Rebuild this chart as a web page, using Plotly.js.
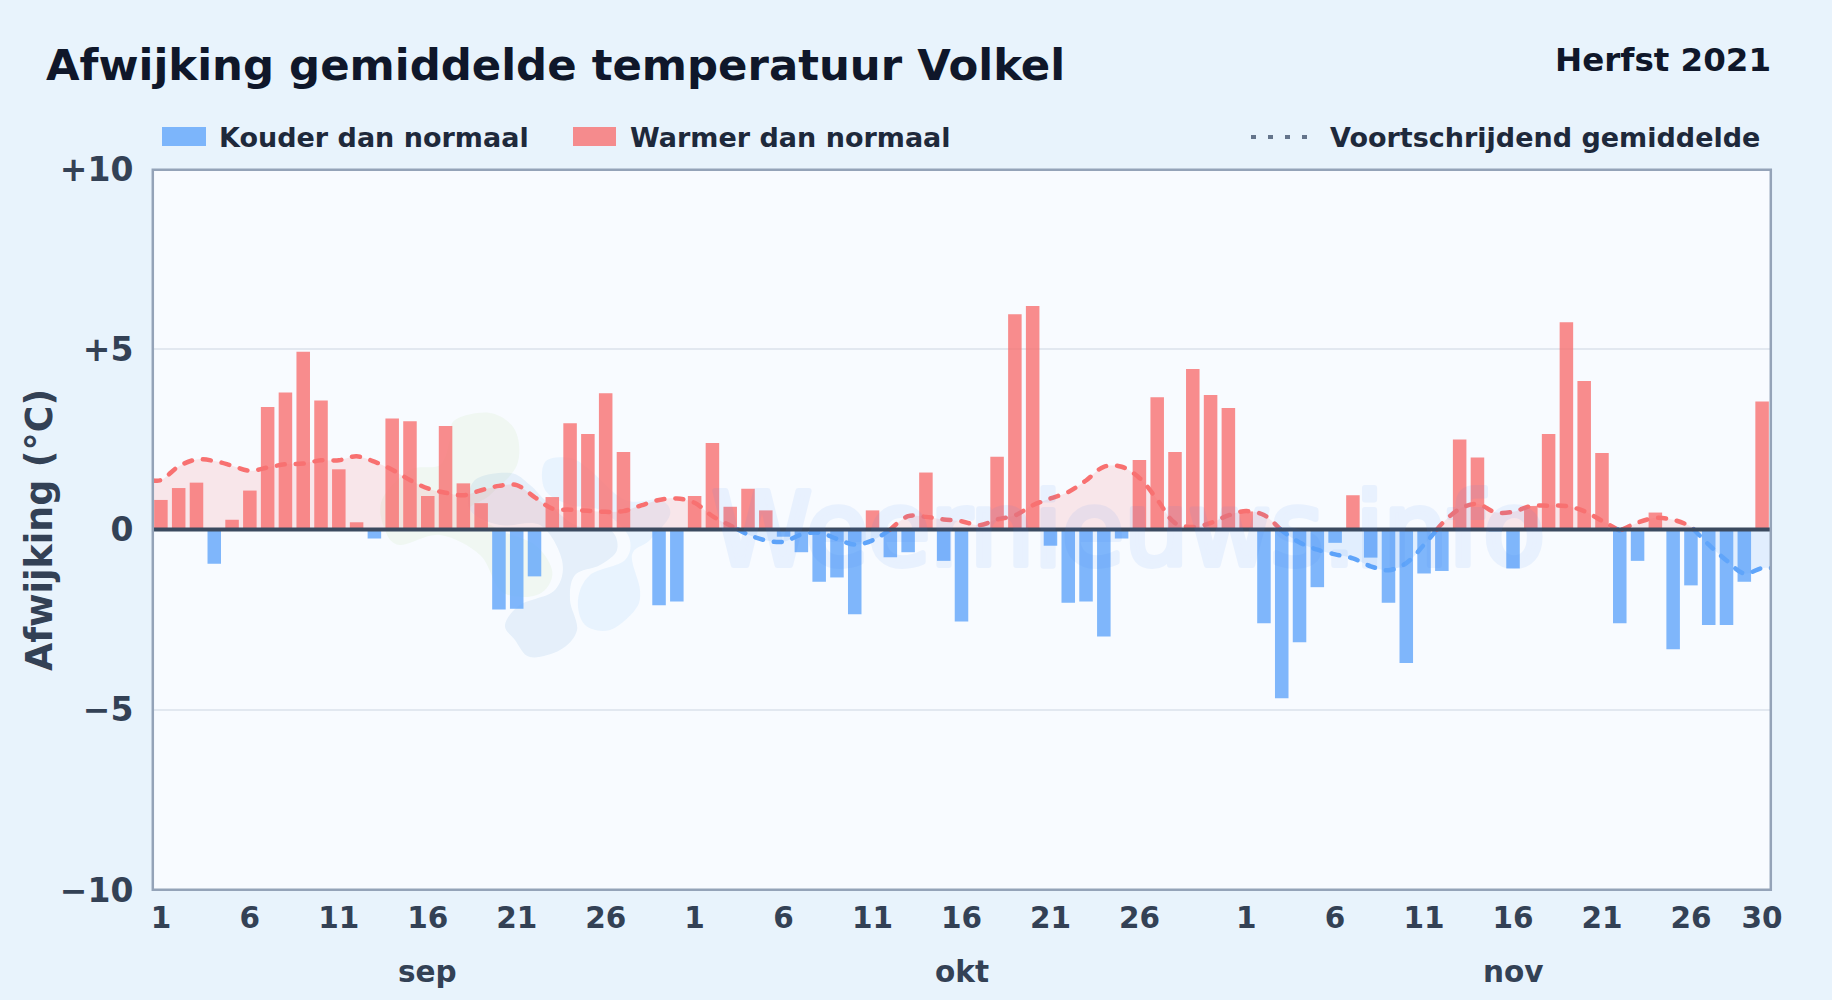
<!DOCTYPE html>
<html><head><meta charset="utf-8">
<script src="https://cdn.plot.ly/plotly-3.0.0.min.js"></script>
<style>html,body{margin:0;padding:0;background:#e8f3fc}#c{width:1832px;height:1000px}</style>
</head><body><div id="c"></div>
<script>
const anomalySep = [0.82,1.15,1.3,-0.95,0.27,1.08,3.4,3.8,4.93,3.58,1.67,0.2,-0.25,3.08,3.0,0.93,2.87,1.28,0.73,-2.22,-2.2,-1.3,0.9,2.95,2.65,3.78,2.15,0,-2.1,-2.0];
const anomalyOkt = [0.93,2.4,0.63,1.13,0.53,-0.2,-0.63,-1.45,-1.33,-2.35,0.53,-0.77,-0.63,1.58,-0.87,-2.55,0,2.02,5.97,6.2,-0.45,-2.03,-2.0,-2.97,-0.25,1.93,3.67,2.15,4.45,3.73,3.37];
const anomalyNov = [0.5,-2.6,-4.68,-3.13,-1.6,-0.37,0.95,-0.78,-2.03,-3.7,-1.22,-1.15,2.5,2.0,-0.05,-1.08,0.65,2.65,5.75,4.12,2.12,-2.6,-0.87,0.47,-3.32,-1.55,-2.65,-2.65,-1.45,3.55];
const rollingSep = [1.37,1.75,1.94,1.9,1.77,1.63,1.72,1.81,1.83,1.92,1.92,2.03,1.88,1.66,1.37,1.14,1.02,0.95,1.09,1.21,1.23,0.9,0.58,0.55,0.52,0.49,0.51,0.67,0.82,0.86];
const rollingOkt = [0.74,0.37,0.11,-0.14,-0.3,-0.34,-0.14,-0.09,-0.26,-0.42,-0.3,0.0,0.37,0.35,0.28,0.23,0.12,0.28,0.39,0.67,0.86,1.04,1.36,1.74,1.74,1.43,0.83,0.18,0.07,0.18,0.39];
const rollingNov = [0.51,0.4,-0.03,-0.36,-0.56,-0.69,-0.8,-1.02,-1.13,-0.93,-0.42,0.16,0.57,0.71,0.48,0.49,0.65,0.66,0.65,0.51,0.24,-0.03,0.19,0.32,0.27,0.08,-0.42,-0.86,-1.22,-1.07];
const dayTickIdx = [0,5,10,15,20,25,30,35,40,45,50,55,61,66,71,76,81,86,90];
const dayTickText = ['1','6','11','16','21','26','1','6','11','16','21','26','1','6','11','16','21','26','30'];
const yTicks = [-10,-5,0,5,10];
const yTickText = ['\u221210','\u22125','0','+5','+10'];
const months = ['sep','okt','nov'];
const monthCenterIdx = [15,45,76];
const legendCold = 'Kouder dan normaal';
const legendWarm = 'Warmer dan normaal';
const legendAvg = 'Voortschrijdend gemiddelde';
const yAxisTitle = 'Afwijking (°C)';

const FONT = 'DejaVu Sans, sans-serif';
const L=152,R=1771,T=169,B=890,W=1832,H=1000;
const RED='#f87171',BLUE='#60a5fa';

const anomaly = anomalySep.concat(anomalyOkt,anomalyNov);
const rolling = rollingSep.concat(rollingOkt,rollingNov);
const idx = anomaly.map((_,i)=>i);

// moving-average runs split at the zero crossings
const rx=[-0.5].concat(idx,[idx.length-0.5]);
const ry=[rolling[0]].concat(rolling,[rolling[rolling.length-1]]);
const runs=[];let cur={x:[rx[0]],y:[ry[0]],pos:ry[0]>=0};
for(let i=1;i<rx.length;i++){
  const a=ry[i-1],b=ry[i];
  if((a>=0)!==(b>=0)){
    const xc=rx[i-1]+(rx[i]-rx[i-1])*(a/(a-b));
    cur.x.push(xc);cur.y.push(0);runs.push(cur);
    cur={x:[xc],y:[0],pos:b>=0};
  }
  cur.x.push(rx[i]);cur.y.push(b);
}
runs.push(cur);

const traces=[];
traces.push({type:'bar',x:idx,y:anomaly,width:0.76,marker:{color:anomaly.map(v=>v>=0?RED:BLUE),opacity:0.8,line:{width:0}},hoverinfo:'x+y'});
runs.forEach(r=>traces.push({type:'scatter',mode:'lines',x:r.x,y:r.y,fill:'tozeroy',
  fillcolor:r.pos?'rgba(248,113,113,0.15)':'rgba(96,165,250,0.15)',
  line:{color:r.pos?RED:BLUE,width:4.5,shape:'spline',smoothing:1,dash:'8px,11px'},hoverinfo:'skip'}));

const px=x=>(x-L)/(R-L), py=y=>(B-y)/(B-T);
// faint logo behind the chart, outlines in page pixels
const blobs=[
 {c:'rgba(190,225,160,0.14)',p:[[455,420],[490,413],[515,430],[517,465],[490,495],[470,510],[500,530],[535,545],[552,570],[545,590],[525,597],[500,590],[480,555],[440,535],[400,545],[385,530],[382,500],[410,470],[440,465],[450,440]]},
 {c:'rgba(100,160,220,0.13)',p:[[475,480],[510,473],[530,485],[545,500],[575,525],[610,530],[617,550],[600,565],[575,575],[570,600],[577,630],[560,650],[530,657],[515,640],[505,625],[520,605],[555,590],[562,560],[540,525],[500,525],[470,510]]},
 {c:'rgba(120,190,245,0.12)',p:[[545,462],[570,458],[590,470],[625,500],[660,500],[670,515],[650,540],[632,555],[640,590],[635,610],[610,630],[585,625],[578,600],[590,575],[625,560],[628,535],[600,510],[570,505],[545,490]]}
];
function smooth(pts){let s='';const n=pts.length;
 for(let i=0;i<n;i++){const p0=pts[(i-1+n)%n],p1=pts[i],p2=pts[(i+1)%n],p3=pts[(i+2)%n];
  if(i===0)s+=`M${px(p1[0])},${py(p1[1])}`;
  const c1=[p1[0]+(p2[0]-p0[0])/6,p1[1]+(p2[1]-p0[1])/6],c2=[p2[0]-(p3[0]-p1[0])/6,p2[1]-(p3[1]-p1[1])/6];
  s+=`C${px(c1[0])},${py(c1[1])} ${px(c2[0])},${py(c2[1])} ${px(p2[0])},${py(p2[1])}`;}
 return s+'Z';}
const shapes=blobs.map(b=>({type:'path',xref:'paper',yref:'paper',layer:'below',path:smooth(b.p),fillcolor:b.c,line:{width:0}}));
shapes.push({type:'line',xref:'paper',yref:'y',x0:0,x1:1,y0:0,y1:0,layer:'above',line:{color:'#3b4a5f',width:4}});
shapes.push({type:'rect',xref:'paper',yref:'paper',x0:px(L+0.8),x1:px(R-0.2),y0:py(B-0.2),y1:py(T+0.8),layer:'above',fillcolor:'rgba(0,0,0,0)',line:{color:'#94a3b8',width:2.5}});
const swatch=(x0,x1,c)=>({type:'rect',xref:'paper',yref:'paper',x0:px(x0),x1:px(x1),y0:py(146),y1:py(127),fillcolor:c,opacity:0.8,line:{width:0}});
shapes.push(swatch(162,206,BLUE),swatch(573,616,RED));
shapes.push({type:'line',xref:'paper',yref:'paper',x0:px(1251),x1:px(1309),y0:py(137),y1:py(137),line:{color:'#64748b',width:4,dash:'5px,12px'}});

const pageText=(text,x,y,size,color,anchor)=>({text:`<b>${text}</b>`,xref:'paper',yref:'paper',x:px(x),y:py(y),xanchor:anchor||'left',yanchor:'middle',showarrow:false,font:{family:FONT,size:size,color:color}});
const annotations=[
 {text:'Weernieuws.info',xref:'paper',yref:'paper',x:px(1128),y:py(530),xanchor:'center',yanchor:'middle',showarrow:false,opacity:0.08,font:{family:FONT,size:101,color:'#3b82f6'}},
 pageText('Afwijking gemiddelde temperatuur Volkel',44,65,43.4,'#0f172a'),
 pageText('Herfst 2021',1773,60,32.5,'#0f172a','right'),
 pageText(legendCold,217,137,27,'#1e293b'),
 pageText(legendWarm,628,137,27,'#1e293b'),
 pageText(legendAvg,1328,137,27,'#1e293b'),
 Object.assign(pageText(yAxisTitle,39,530,36.4,'#334155','center'),{textangle:-90})
];
months.forEach((m,i)=>annotations.push({text:`<b>${m}</b>`,xref:'x',yref:'paper',x:monthCenterIdx[i],y:py(972),xanchor:'center',yanchor:'middle',showarrow:false,font:{family:FONT,size:29.5,color:'#334155'}}));

Plotly.newPlot('c',traces,{
 width:W,height:H,showlegend:false,bargap:0.24,
 paper_bgcolor:'#e8f3fc',plot_bgcolor:'#f8fbff',
 margin:{l:L,r:W-R,t:T,b:H-B,pad:0},
 font:{family:FONT},
 xaxis:{range:[-0.5,90.5],tickmode:'array',tickvals:dayTickIdx,ticktext:dayTickText,showgrid:false,zeroline:false,
  ticks:'outside',ticklen:2,tickcolor:'rgba(0,0,0,0)',
  tickangle:0,tickfont:{family:FONT,size:29.5,color:'#334155',weight:700}},
 yaxis:{range:[-10,10],tickmode:'array',tickvals:yTicks,ticktext:yTickText,gridcolor:'#e2e8f0',gridwidth:2,zeroline:false,
  ticks:'outside',ticklen:11,tickcolor:'rgba(0,0,0,0)',
  tickfont:{family:FONT,size:33,color:'#334155',weight:700}},
 shapes:shapes,annotations:annotations
},{displayModeBar:false}).then(()=>{
 document.querySelectorAll('.js-line').forEach(e=>e.style.strokeLinecap='round');
 document.querySelectorAll('.annotation-text').forEach(e=>{
  if(e.textContent==='Weernieuws.info'){e.style.stroke='#3b82f6';e.style.strokeWidth='6px';e.style.strokeLinejoin='round';}
 });
});
</script></body></html>
